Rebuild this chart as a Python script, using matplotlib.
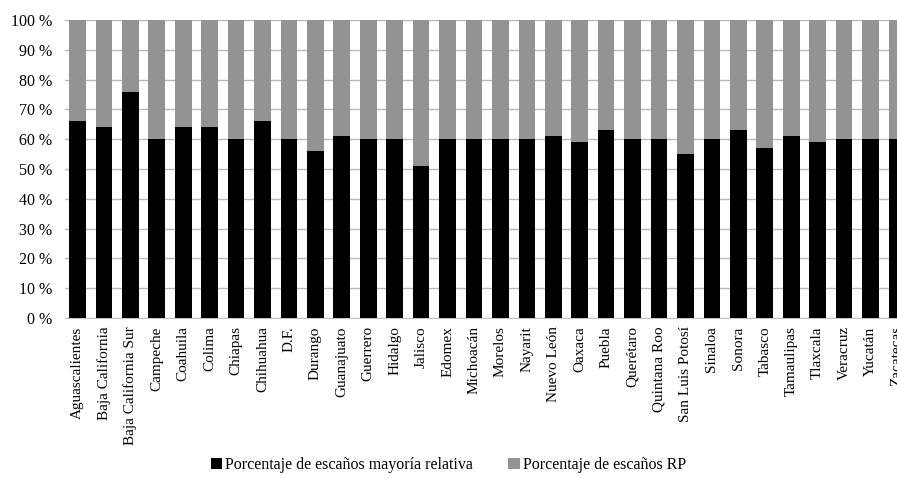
import numpy as np
import matplotlib.pyplot as plt
from matplotlib.ticker import FuncFormatter

estados = ["Aguascalientes", "Baja California", "Baja California Sur", "Campeche",
           "Coahuila", "Colima", "Chiapas", "Chihuahua", "D.F.", "Durango",
           "Guanajuato", "Guerrero", "Hidalgo", "Jalisco", "Edomex", "Michoacán",
           "Morelos", "Nayarit", "Nuevo León", "Oaxaca", "Puebla", "Querétaro",
           "Quintana Roo", "San Luis Potosí", "Sinaloa", "Sonora", "Tabasco",
           "Tamaulipas", "Tlaxcala", "Veracruz", "Yucatán", "Zacatecas"]
mayoria = [66, 64, 76, 60, 64, 64, 60, 66, 60, 56, 61, 60, 60, 51, 60, 60,
           60, 60, 61, 59, 63, 60, 60, 55, 60, 63, 57, 61, 59, 60, 60, 60]
rp = [100 - m for m in mayoria]

plt.rcParams['font.family'] = ['Liberation Serif', 'DejaVu Serif']

fig = plt.figure(figsize=(8.97, 4.78), dpi=100)
ax = fig.add_axes([65 / 897, 1 - 318 / 478, 1.0097 - 65 / 897, 298 / 478])

x = np.arange(len(estados))
ax.bar(x, mayoria, width=0.63, color='black', label='Porcentaje de escaños mayoría relativa', zorder=3)
ax.bar(x, rp, width=0.63, bottom=mayoria, color='#939396', label='Porcentaje de escaños RP', zorder=3)

ax.set_ylim(0, 100)
ax.set_xlim(-0.47, 31.33)
ax.set_yticks(range(0, 101, 10))
ax.yaxis.set_major_formatter(FuncFormatter(lambda v, p: f"{int(v)} %"))
ax.yaxis.grid(True, color='#b8b8b8', linewidth=1, zorder=0)
ax.set_xticks(x)
ax.set_xticklabels(estados, rotation=90, fontsize=11)
ax.tick_params(axis='y', labelsize=11.5, length=0, pad=9)
ax.tick_params(axis='x', length=0, pad=6)
for s in ['top', 'right', 'left']:
    ax.spines[s].set_visible(False)
ax.spines['bottom'].set_color('#c4c4c8')

fig.legend(loc='lower center', bbox_to_anchor=(0.5, -0.02), ncol=2, frameon=False,
           fontsize=11.5, handlelength=0.7, handleheight=0.7, handletextpad=0.2,
           columnspacing=2.2)

fig.savefig('out.png', dpi=100)
